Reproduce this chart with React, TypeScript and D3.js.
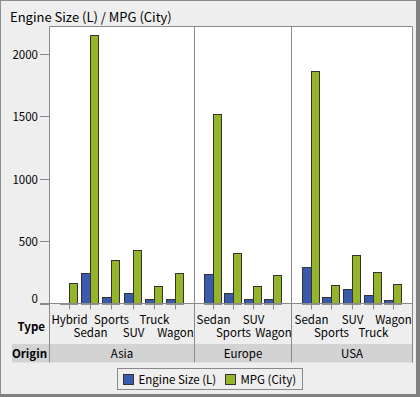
import React from "react";
import * as d3 from "d3";

const origins = ["Asia", "Europe", "USA"];
const typesByOrigin: string[][] = [
  ["Hybrid", "Sedan", "Sports", "SUV", "Truck", "Wagon"],
  ["Sedan", "Sports", "SUV", "Wagon"],
  ["Sedan", "Sports", "SUV", "Truck", "Wagon"],
];
const engineSize: number[][] = [
  [8, 248, 51, 88, 35, 35],
  [240, 88, 40, 40],
  [296, 51, 112, 72, 24],
];
const mpgCity: number[][] = [
  [168, 2146, 347, 432, 144, 248],
  [1520, 408, 144, 232],
  [1856, 152, 392, 256, 160],
];
const yTicks = [0, 500, 1000, 1500, 2000];
const seriesNames = ["Engine Size (L)", "MPG (City)"];
const seriesColors = ["#3a5aad", "#94b42a"];
const title = "Engine Size (L) / MPG (City)";

const W = 420;
const H = 397;
const FONT = "'Noto Sans CJK JP', 'DejaVu Sans', sans-serif";

export default function App() {
  const left = 49.5;
  const right = 412.5;
  const top = 26.5;
  const bottom = 303.5;
  const y = d3.scaleLinear().domain([0, 2216]).range([bottom, top]);

  const counts = typesByOrigin.map((t) => t.length);
  const total = d3.sum(counts);
  const unit = (right - left) / total;
  const bounds: number[] = [left];
  counts.forEach((c, i) => bounds.push(bounds[i] + c * unit));
  const panelBounds = bounds.map((b) => Math.round(b - 0.5) + 0.5);

  const barW = 9;
  const grid = "#8a8a8a";
  const fs = 11.5;

  return (
    <div style={{ position: "fixed", left: 0, top: 0 }}>
      <svg width={W} height={H} style={{ display: "block", fontFamily: FONT }}>
        <rect x={0} y={0} width={W} height={H} fill="#eeeeee" />
        {/* outer frame */}
        <rect x={0.5} y={0.5} width={W - 1} height={H - 1} fill="none" stroke="#8c8c8c" />
        <rect x={W - 4} y={0} width={4} height={H} fill="#808080" />
        <rect x={0} y={H - 3} width={W} height={3} fill="#808080" />
        <text x={10} y={21.5} fontSize={13} fill="#000">
          {title}
        </text>
        {/* plot bg */}
        <rect x={left} y={top} width={right - left} height={bottom - top} fill="#ffffff" />
        {/* origin band */}
        <rect x={12} y={344} width={right - 12} height={18.5} fill="#d3d3d3" />
        <text x={12} y={357.5} fontSize={fs} fontWeight="bold" fill="#000">
          Origin
        </text>
        <text x={45} y={330.5} fontSize={fs} fontWeight="bold" fill="#000" textAnchor="end">
          Type
        </text>
        {/* y ticks */}
        {yTicks.map((t) => (
          <g key={t}>
            <line x1={40} x2={left} y1={Math.round(y(t)) + 0.5} y2={Math.round(y(t)) + 0.5} stroke={grid} />
            <text
              x={38}
              y={t === 0 ? 302.5 : Math.round(y(t)) + 4.5}
              fontSize={fs}
              textAnchor="end"
              fill="#000"
            >
              {t}
            </text>
          </g>
        ))}
        {/* panels */}
        {origins.map((o, pi) => {
          const x0 = panelBounds[pi];
          const x1 = panelBounds[pi + 1];
          const xs = d3.scalePoint<string>().domain(typesByOrigin[pi]).range([x0, x1]).padding(0.95);
          return (
            <g key={o}>
              {typesByOrigin[pi].map((t, i) => {
                const cx = Math.round(xs(t) as number);
                const e = engineSize[pi][i];
                const m = mpgCity[pi][i];
                const ye = Math.round(y(e));
                const ym = Math.round(y(m));
                return (
                  <g key={t}>
                    <rect
                      x={cx - barW + 0.5}
                      y={ye + 0.5}
                      width={barW}
                      height={Math.max(0, Math.round(bottom) - ye - 0.5)}
                      fill={seriesColors[0]}
                      stroke="#333"
                    />
                    <rect
                      x={cx + 0.5}
                      y={ym + 0.5}
                      width={barW - 1}
                      height={Math.max(0, Math.round(bottom) - ym - 0.5)}
                      fill={seriesColors[1]}
                      stroke="#333"
                    />
                    <line x1={cx + 0.5} x2={cx + 0.5} y1={bottom} y2={bottom + 6} stroke={grid} />
                    <text
                      x={cx + 0.5}
                      y={i % 2 === 0 ? 324 : 337}
                      fontSize={fs}
                      textAnchor="middle"
                      fill="#000"
                    >
                      {t}
                    </text>
                  </g>
                );
              })}
              <text x={(x0 + x1) / 2} y={358} fontSize={fs} textAnchor="middle" fill="#000">
                {o}
              </text>
            </g>
          );
        })}
        {/* lines */}
        <line x1={left} x2={right} y1={top} y2={top} stroke={grid} />
        <line x1={40} x2={right} y1={bottom} y2={bottom} stroke={grid} />
        {panelBounds.map((b, i) => (
          <line key={i} x1={b} x2={b} y1={top} y2={362.5} stroke={grid} />
        ))}
        {/* legend */}
        <rect x={117.5} y={368.5} width={185} height={21} fill="#eeeeee" stroke={grid} />
        {seriesNames.map((s, i) => {
          const lx = i === 0 ? 123.5 : 225.5;
          return (
            <g key={s}>
              <rect x={lx} y={374.5} width={10} height={10} fill={seriesColors[i]} stroke="#333" />
              <text x={lx + 15} y={384} fontSize={fs} fill="#000">
                {s}
              </text>
            </g>
          );
        })}
      </svg>
    </div>
  );
}
